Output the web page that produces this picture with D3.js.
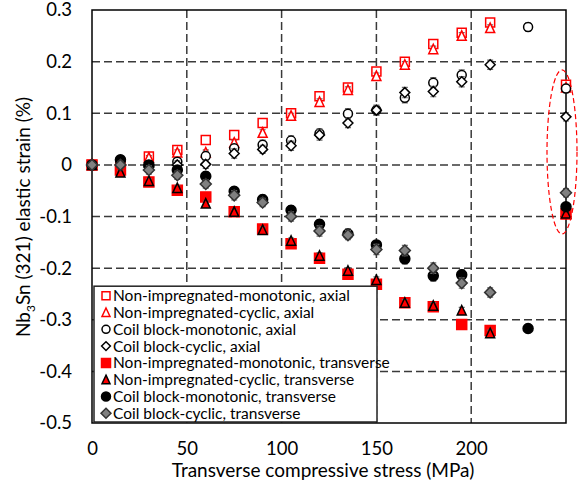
<!DOCTYPE html>
<html>
<head>
<meta charset="utf-8">
<script src="https://cdn.jsdelivr.net/npm/d3@7"></script>
<style>
  body { margin: 0; background: #fff; }
  svg text { font-family: Lato, "Open Sans", sans-serif; fill: #000; }
</style>
</head>
<body>
<div id="chart"></div>
<script>
// stress steps (MPa); last point (250) is the post-unloading value in the ellipse
var stressNonImp = [0, 15, 30, 45, 60, 75, 90, 105, 120, 135, 150, 165, 180, 195, 210, 250];
var stressCoilMono = [0, 15, 30, 45, 60, 75, 90, 105, 120, 135, 150, 165, 180, 195, 230, 250];
var stressCoilCyc = [0, 15, 30, 45, 60, 75, 90, 105, 120, 135, 150, 165, 180, 195, 210, 250];

// elastic strain (%)
var niMonoAxial = [0, 0.002, 0.016, 0.029, 0.048, 0.058, 0.081, 0.1, 0.133, 0.15, 0.181, 0.2, 0.234, 0.256, 0.276, 0.155];
var niCycAxial = [0, 0.0, 0.014, 0.024, 0.024, 0.043, 0.062, 0.095, 0.122, 0.145, 0.172, 0.194, 0.224, 0.25, 0.265, 0.15];
var cbMonoAxial = [0, 0.008, 0.0, 0.006, 0.017, 0.032, 0.039, 0.047, 0.061, 0.099, 0.106, 0.13, 0.159, 0.174, 0.267, 0.148];
var cbCycAxial = [0, 0.0, -0.004, 0.0, 0.001, 0.022, 0.03, 0.037, 0.058, 0.081, 0.106, 0.14, 0.142, 0.161, 0.194, 0.093];
var niMonoTrans = [0, -0.01, -0.033, -0.049, -0.062, -0.091, -0.124, -0.153, -0.181, -0.212, -0.231, -0.267, -0.275, -0.309, -0.321, -0.095];
var niCycTrans = [0, -0.015, -0.031, -0.045, -0.075, -0.091, -0.126, -0.147, -0.176, -0.205, -0.223, -0.267, -0.273, -0.282, -0.326, -0.094];
var cbMonoTrans = [0, 0.01, 0.0, -0.01, -0.022, -0.051, -0.067, -0.088, -0.115, -0.134, -0.155, -0.182, -0.215, -0.213, -0.317, -0.081];
var cbCycTrans = [0, 0.0, -0.01, -0.02, -0.037, -0.059, -0.073, -0.1, -0.128, -0.136, -0.164, -0.166, -0.2, -0.229, -0.247, -0.054];

// error bars (+/- %)
var errNi = [0, 0.004, 0.004, 0.005, 0.005, 0.005, 0.006, 0.005, 0.006, 0.006, 0.006, 0.006, 0.006, 0.006, 0.006, 0.005];
var errCbMono = [0, 0.008, 0.008, 0.008, 0.009, 0.008, 0.009, 0.009, 0.009, 0.01, 0.009, 0.01, 0.01, 0.01, 0.008, 0.008];
var errCbCyc = [0, 0.007, 0.008, 0.008, 0.008, 0.009, 0.008, 0.009, 0.01, 0.009, 0.01, 0.01, 0.01, 0.01, 0.009, 0.008];

var legendLabels = [
  "Non-impregnated-monotonic, axial",
  "Non-impregnated-cyclic, axial",
  "Coil block-monotonic, axial",
  "Coil block-cyclic, axial",
  "Non-impregnated-monotonic, transverse",
  "Non-impregnated-cyclic, transverse",
  "Coil block-monotonic, transverse",
  "Coil block-cyclic, transverse"
];

var yTicks = [0.3, 0.2, 0.1, 0, -0.1, -0.2, -0.3, -0.4, -0.5];
var xTicks = [0, 50, 100, 150, 200];

var series = [
  { x: stressNonImp, y: niMonoAxial, err: errNi, shape: "square", size: 9, fill: "#fff", stroke: "#ff0000" },
  { x: stressNonImp, y: niCycAxial, err: errNi, shape: "triangle", size: 9, fill: "#fff", stroke: "#ff0000" },
  { x: stressCoilMono, y: cbMonoAxial, err: errCbMono, shape: "circle", size: 9, fill: "#fff", stroke: "#000" },
  { x: stressCoilCyc, y: cbCycAxial, err: errCbCyc, shape: "diamond", size: 9, fill: "#fff", stroke: "#000" },
  { x: stressNonImp, y: niMonoTrans, err: errNi, shape: "square", size: 10, fill: "#ff0000", stroke: "#ff0000" },
  { x: stressNonImp, y: niCycTrans, err: errNi, shape: "triangle", size: 9, fill: "#ff0000", stroke: "#000" },
  { x: stressCoilMono, y: cbMonoTrans, err: errCbMono, shape: "circle", size: 10, fill: "#000", stroke: "#000" },
  { x: stressCoilCyc, y: cbCycTrans, err: errCbCyc, shape: "diamond", size: 10, fill: "#808080", stroke: "#333" }
];

var svgWidth = 578, svgHeight = 487;
var margin = { top: 10, left: 92, right: 12, bottom: 64 };
var width = svgWidth - margin.left - margin.right;
var height = svgHeight - margin.top - margin.bottom;

var svg = d3.select("#chart").append("svg")
  .attr("width", svgWidth)
  .attr("height", svgHeight);

var chartGroup = svg.append("g")
  .attr("transform", `translate(${margin.left}, ${margin.top})`);

var xScale = d3.scaleLinear().domain([0, 250]).range([0, width]);
var yScale = d3.scaleLinear().domain([-0.5, 0.3]).range([height, 0]);

// marker path, centred at 0,0, s = nominal width
function markerPath(shape, s) {
  var h = s / 2;
  if (shape === "square") return `M${-h},${-h}H${h}V${h}H${-h}Z`;
  if (shape === "diamond") { h = s * 0.55; return `M0,${-h}L${h},0L0,${h}L${-h},0Z`; }
  if (shape === "triangle") return `M0,${-h - 0.5}L${h},${h}L${-h},${h}Z`;
  return d3.arc()({ innerRadius: 0, outerRadius: h, startAngle: 0, endAngle: 2 * Math.PI });
}

// grid lines
var grid = chartGroup.append("g").attr("class", "grid");
grid.selectAll("line.h")
  .data(yTicks.filter(d => d > -0.45 && d < 0.25))
  .enter().append("line")
  .attr("x1", 0).attr("x2", width)
  .attr("y1", d => yScale(d)).attr("y2", d => yScale(d))
  .attr("stroke", "#3a3a3a").attr("stroke-width", 1.5)
  .attr("stroke-dasharray", "8,4");
grid.selectAll("line.v")
  .data(xTicks.filter(d => d > 0))
  .enter().append("line")
  .attr("x1", d => xScale(d)).attr("x2", d => xScale(d))
  .attr("y1", 0).attr("y2", height)
  .attr("stroke", "#3a3a3a").attr("stroke-width", 1.5)
  .attr("stroke-dasharray", "8,4");

// axes (labels only)
var yAxis = d3.axisLeft(yScale).tickValues(yTicks).tickSize(0).tickPadding(20)
  .tickFormat(d => d === 0 ? "0" : d.toFixed(1));
var yAxisG = chartGroup.append("g").call(yAxis);
yAxisG.select(".domain").remove();
yAxisG.selectAll("text").style("font-family", "Lato").style("font-size", "18.5px");

var xAxis = d3.axisBottom(xScale).tickValues(xTicks).tickSize(0).tickPadding(19);
var xAxisG = chartGroup.append("g").attr("transform", `translate(0, ${height})`).call(xAxis);
xAxisG.select(".domain").remove();
xAxisG.selectAll("text").style("font-family", "Lato").style("font-size", "18.5px");

// plot border
chartGroup.append("rect")
  .attr("x", 0).attr("y", 0).attr("width", width).attr("height", height)
  .attr("fill", "none").attr("stroke", "#000").attr("stroke-width", 1.5);

// error bars + markers
series.forEach(function(s) {
  var pts = s.y.map((v, i) => ({ x: s.x[i], y: v, e: s.err[i] }));
  var g = chartGroup.append("g");
  g.selectAll("path.eb")
    .data(pts.filter(d => d.e > 0))
    .enter().append("path")
    .attr("d", function(d) {
      var cx = xScale(d.x), y1 = yScale(d.y + d.e), y2 = yScale(d.y - d.e);
      return `M${cx},${y1}V${y2}M${cx - 3},${y1}H${cx + 3}M${cx - 3},${y2}H${cx + 3}`;
    })
    .attr("fill", "none").attr("stroke", "#6d6d6d").attr("stroke-width", 1.2);
  g.selectAll("path.mk")
    .data(pts)
    .enter().append("path")
    .attr("transform", d => `translate(${xScale(d.x)}, ${yScale(d.y)})`)
    .attr("d", markerPath(s.shape, s.size))
    .attr("fill", s.fill).attr("stroke", s.stroke).attr("stroke-width", 1.5);
});

// red dashed ellipse around post-unloading points
chartGroup.append("ellipse")
  .attr("cx", xScale(250) - 4).attr("cy", yScale(0.025))
  .attr("rx", 15).attr("ry", 82)
  .attr("fill", "none").attr("stroke", "#ff0000").attr("stroke-width", 1.2)
  .attr("stroke-dasharray", "5,3");

// legend
var legend = chartGroup.append("g").attr("transform", `translate(2, ${yScale(-0.235)})`);
legend.append("rect")
  .attr("x", 0).attr("y", 0).attr("width", 283).attr("height", yScale(-0.5) - yScale(-0.235) - 1)
  .attr("fill", "#fff").attr("stroke", "#222").attr("stroke-width", 1.5);
legendLabels.forEach(function(label, i) {
  var s = series[i];
  var ly = 9.5 + i * 16.8;
  legend.append("path")
    .attr("transform", `translate(12, ${ly})`)
    .attr("d", markerPath(s.shape, s.size - 1))
    .attr("fill", s.fill).attr("stroke", s.stroke).attr("stroke-width", 1.5);
  legend.append("text")
    .attr("x", 19).attr("y", ly + 5.5)
    .style("font-size", "15.5px")
    .text(label);
});

// axis titles
chartGroup.append("text")
  .attr("transform", `translate(${width / 2 - 6}, ${height + 54})`)
  .attr("text-anchor", "middle")
  .style("font-size", "19px")
  .text("Transverse compressive stress (MPa)");

var yTitle = svg.append("text")
  .attr("transform", `translate(30, ${margin.top + 207}) rotate(-90)`)
  .attr("text-anchor", "middle")
  .style("font-size", "19px");
yTitle.append("tspan").text("Nb");
yTitle.append("tspan").attr("dy", 5).style("font-size", "12px").text("3");
yTitle.append("tspan").attr("dy", -5).text("Sn (321) elastic strain (%)");
</script>
</body>
</html>
